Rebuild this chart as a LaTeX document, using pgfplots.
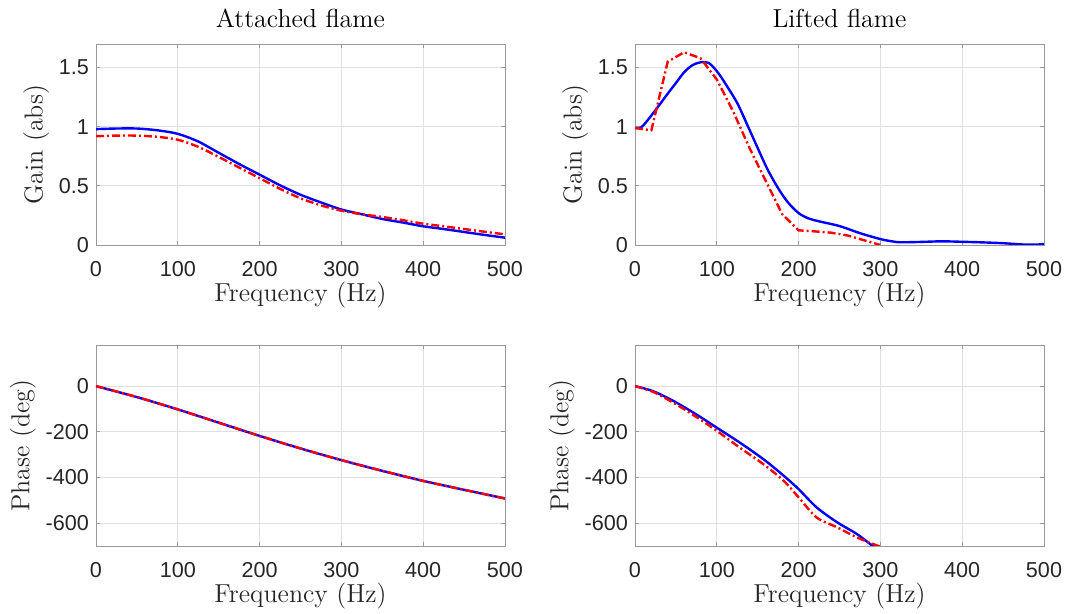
\documentclass[border=0pt]{standalone}
\usepackage{fontspec}
\usepackage{pgfplots}
\pgfplotsset{compat=1.18}
\newfontfamily\arialfont{Liberation Sans}

\pgfplotsset{
  panel/.style={
    scale only axis,
    width=204.5pt, height=100.5pt,
    anchor=south west,
    xmin=0, xmax=500,
    xtick={0,100,200,300,400,500},
    tick align=inside,
    major tick length=2pt,
    axis line style={black!40},
    tick style={black!40, line width=0.4pt},
    grid=major,
    major grid style={black!12, line width=0.4pt},
    tick label style={font=\arialfont\fontsize{10.8}{12}\selectfont, text=black!85},
    xticklabel style={yshift=-4.5pt},
    /pgf/number format/assume math mode=true,
    label style={font=\fontsize{13}{15}\selectfont, text=black!85},
    title style={font=\fontsize{13}{15}\selectfont, yshift=-1.5pt},
    xlabel={Frequency (Hz)},
    xlabel style={yshift=4pt},
    ylabel style={yshift=-2pt},
    clip=true,
  },
  gain/.style={ymin=0, ymax=1.7, ytick={0,0.5,1,1.5}, ylabel={Gain (abs)}},
  phase/.style={ymin=-700, ymax=180, ytick={-600,-400,-200,0}, ylabel={Phase (deg)}},
  meas/.style={blue, line width=1.2pt},
  model/.style={red, line width=1.2pt, dash pattern=on 4pt off 1.5pt on 1pt off 1.5pt},
}

\begin{document}
\begin{tikzpicture}
\useasboundingbox (0,0) rectangle (533.5pt,307pt);

% top left
\begin{axis}[panel, gain, at={(48pt,184.5pt)}, title={Attached flame}]
\addplot[meas, smooth] coordinates {(0,0.98)(25,0.985)(50,0.985)(75,0.97)(100,0.94)(125,0.875)(150,0.78)(175,0.685)(200,0.595)(225,0.505)(250,0.425)(275,0.36)(300,0.30)(325,0.26)(350,0.22)(375,0.19)(400,0.158)(425,0.135)(450,0.11)(475,0.085)(500,0.062)};
\addplot[model, smooth] coordinates {(0,0.92)(25,0.925)(50,0.925)(75,0.915)(100,0.89)(125,0.83)(150,0.745)(175,0.655)(200,0.565)(225,0.475)(250,0.395)(275,0.335)(300,0.29)(325,0.26)(350,0.237)(375,0.21)(400,0.18)(425,0.158)(450,0.135)(475,0.112)(500,0.09)};
\end{axis}

% top right
\begin{axis}[panel, gain, at={(317.5pt,184.5pt)}, title={Lifted flame}]
\addplot[meas, smooth] coordinates {(0,0.99)(5,0.99)(10,1.01)(25,1.14)(40,1.28)(50,1.37)(60,1.46)(70,1.52)(80,1.545)(90,1.54)(100,1.47)(110,1.37)(125,1.20)(137,1.02)(150,0.82)(162,0.64)(175,0.48)(187,0.36)(200,0.27)(212,0.225)(225,0.20)(250,0.16)(275,0.10)(300,0.05)(315,0.03)(325,0.023)(350,0.026)(375,0.031)(400,0.027)(425,0.022)(450,0.015)(475,0.004)(490,0.003)(500,0.008)};
\addplot[model] coordinates {(0,0.99)(20,0.97)(40,1.55)(60,1.63)(80,1.58)(100,1.40)(120,1.13)(140,0.82)(160,0.54)(180,0.26)(200,0.124)(220,0.115)(240,0.104)(260,0.08)(280,0.04)(300,0.0)};
\end{axis}

% bottom left
\begin{axis}[panel, phase, at={(48pt,34pt)}]
\addplot[meas, smooth] coordinates {(0,0)(50,-48)(100,-102)(150,-160)(200,-218)(250,-273)(300,-324)(350,-371)(400,-415)(450,-454)(500,-492)};
\addplot[model, smooth] coordinates {(0,0)(50,-48)(100,-102)(150,-160)(200,-218)(250,-273)(300,-324)(350,-371)(400,-415)(450,-454)(500,-492)};
\end{axis}

% bottom right
\begin{axis}[panel, phase, at={(317.5pt,34pt)}]
\addplot[meas, smooth] coordinates {(0,0)(22,-22)(47,-65)(75,-124)(100,-182)(128,-247)(157,-320)(182,-393)(200,-451)(222,-531)(247,-596)(271,-647)(290,-698)(300,-716)};
\addplot[model, smooth] coordinates {(0,0)(22,-25)(47,-73)(75,-135)(100,-196)(128,-269)(157,-342)(182,-415)(200,-487)(222,-575)(247,-618)(271,-662)(296,-698)(305,-710)};
\end{axis}
\end{tikzpicture}
\end{document}
